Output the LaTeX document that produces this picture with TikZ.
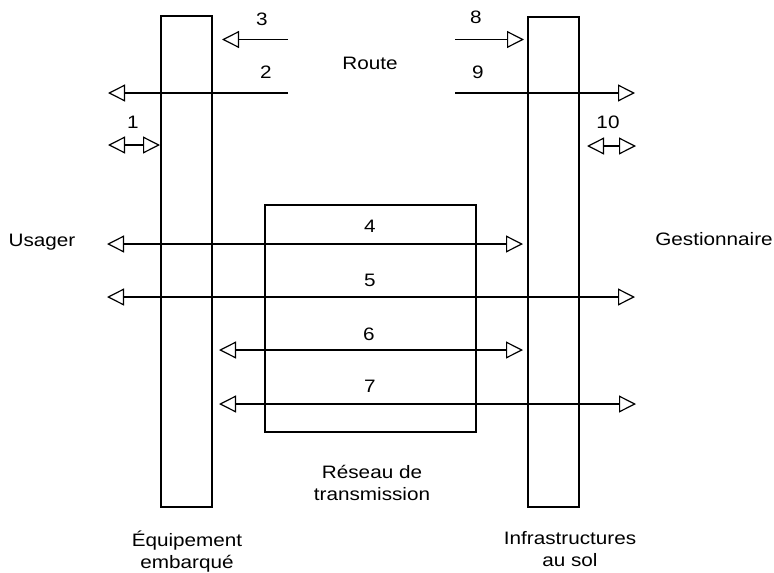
\documentclass[tikz,border=0pt]{standalone}
\usepackage{fontspec}
\setmainfont{Liberation Sans}[FakeStretch=1.15]
\usetikzlibrary{arrows.meta}
\begin{document}
\begin{tikzpicture}[x=1pt,y=-1pt,
  box/.style={draw,line width=1.6pt},
  flow/.style={line width=1.3pt,-{Triangle[open,length=17pt,width=17pt,line width=1.2pt]}},
  dflow/.style={line width=1.3pt,{Triangle[open,length=17pt,width=17pt,line width=1.2pt]}-{Triangle[open,length=17pt,width=17pt,line width=1.2pt]}},
  lbl/.style={font=\fontsize{18}{21.5}\selectfont,inner sep=0pt,align=center,anchor=base}]
\useasboundingbox (0,0) rectangle (774,573);
% boxes
\draw[box] (161,16) rectangle (212,507);
\draw[box] (528,17) rectangle (579,507);
\draw[box] (265,205) rectangle (476,432);
% coordinates
\coordinate (s3) at (288,39.5);  \coordinate (e3) at (222,39.5);
\coordinate (s2) at (288,93);    \coordinate (e2) at (108,93);
\coordinate (a1) at (108,145);   \coordinate (b1) at (160,145);
\coordinate (s8) at (455,39.5);  \coordinate (e8) at (524,39.5);
\coordinate (s9) at (455,93);    \coordinate (e9) at (635,93);
\coordinate (a10) at (587,146);  \coordinate (b10) at (636,146);
\coordinate (a4) at (107,244);   \coordinate (b4) at (523,244);
\coordinate (a5) at (107,297);   \coordinate (b5) at (635,297);
\coordinate (a6) at (219,350);   \coordinate (b6) at (523,350);
\coordinate (a7) at (219,404);   \coordinate (b7) at (636,404);
% arrows
\draw[flow] (s3) -- (e3);
\draw[flow] (s2) -- (e2);
\draw[dflow] (a1) -- (b1);
\draw[flow] (s8) -- (e8);
\draw[flow] (s9) -- (e9);
\draw[dflow] (a10) -- (b10);
\draw[dflow] (a4) -- (b4);
\draw[dflow] (a5) -- (b5);
\draw[dflow] (a6) -- (b6);
\draw[dflow] (a7) -- (b7);
% labels
\node[lbl] (n3) at (262,25) {3};
\node[lbl] (n2) at (266,78) {2};
\node[lbl] (n1) at (133,128) {1};
\node[lbl] (n8) at (476,23) {8};
\node[lbl] (n9) at (478,78) {9};
\node[lbl] (n10) at (608,128) {10};
\node[lbl] (n4) at (370,232) {4};
\node[lbl] (n5) at (370,286) {5};
\node[lbl] (n6) at (369,340) {6};
\node[lbl] (n7) at (370,392) {7};
\node[lbl] (route) at (370,69) {Route};
\node[lbl] (usager) at (42,246) {Usager};
\node[lbl] (gest) at (714,245) {Gestionnaire};
\node[lbl] (reseau) at (372,500) {Réseau de\\transmission};
\node[lbl] (equip) at (187,568) {Équipement\\embarqué};
\node[lbl] (infra) at (570,566) {Infrastructures\\au sol};
\end{tikzpicture}
\end{document}
